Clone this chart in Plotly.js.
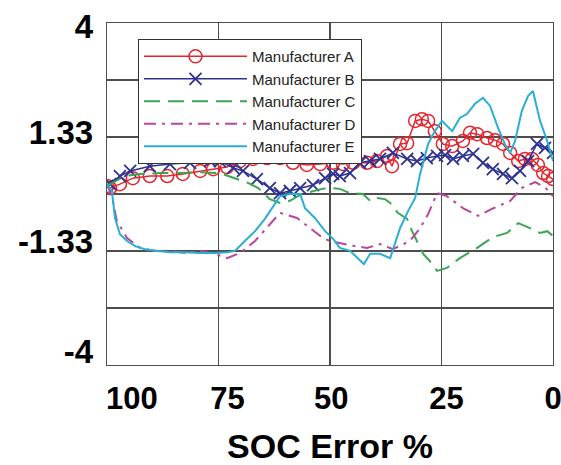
<!DOCTYPE html>
<html>
<head>
<meta charset="utf-8">
<script src="https://cdn.plot.ly/plotly-3.0.1.min.js"></script>
<style>
html,body{margin:0;padding:0;background:#fff;}
#chart{width:561px;height:465px;}
</style>
</head>
<body>
<div id="chart"></div>
<script>
// Series names
const seriesNames = ["Manufacturer A", "Manufacturer B", "Manufacturer C", "Manufacturer D", "Manufacturer E"];

// Manufacturer A (SOC %, error)
const socA = [100, 99.3, 97.1, 94.2, 90.4, 86.5, 83.0, 79.1, 76.2, 73.1, 70.2, 67.3, 64.1, 61.2, 58.3, 55.2, 52.2, 49.3, 47.1, 44.8, 41.7, 39.5, 37.2, 36.1, 34.3, 32.7, 30.9, 29.4, 28.0, 26.5, 24.7, 22.6, 20.2, 18.6, 17.0, 14.8, 13.0, 11.2, 9.6, 7.8, 6.3, 4.7, 3.4, 2.2, 1.1, 0];
const errA = [0.19, 0.14, 0.23, 0.37, 0.42, 0.42, 0.47, 0.54, 0.58, 0.63, 0.77, 0.82, 0.84, 0.84, 0.73, 0.68, 0.70, 0.73, 0.70, 0.73, 0.73, 0.77, 0.89, 0.65, 1.17, 1.19, 1.71, 1.75, 1.71, 1.47, 1.17, 1.12, 1.24, 1.43, 1.40, 1.31, 1.26, 1.17, 0.96, 0.77, 0.82, 0.82, 0.68, 0.49, 0.42, 0.35];

// Manufacturer B
const socB = [100, 99.3, 97.1, 94.8, 90.4, 85.9, 81.4, 76.9, 74.7, 71.7, 69.5, 66.4, 63.5, 61.2, 59.0, 56.7, 53.8, 51.1, 49.3, 47.8, 45.5, 43.3, 41.0, 38.8, 35.9, 32.7, 30.5, 28.3, 26.0, 24.2, 22.4, 20.2, 17.9, 15.7, 13.5, 11.2, 9.2, 7.4, 5.6, 3.6, 1.8, 0];
const errB = [0.19, 0.23, 0.42, 0.54, 0.65, 0.70, 0.73, 0.77, 0.77, 0.61, 0.54, 0.35, 0.14, 0.02, 0.07, 0.14, 0.21, 0.37, 0.47, 0.42, 0.49, 0.73, 0.77, 0.82, 0.96, 0.82, 0.77, 0.84, 0.89, 0.91, 0.82, 0.89, 0.94, 0.73, 0.58, 0.47, 0.37, 0.54, 0.77, 1.17, 1.08, 0.96];

// Manufacturer C
const socC = [100, 98.2, 96.0, 92.6, 88.1, 83.6, 79.1, 74.7, 70.6, 68.4, 66.1, 63.5, 61.2, 59.0, 56.3, 54.0, 51.8, 50.0, 47.8, 45.5, 42.6, 41.0, 39.9, 37.7, 36.5, 34.8, 32.7, 31.6, 30.5, 29.1, 27.6, 26.0, 23.8, 20.9, 17.0, 13.5, 10.3, 7.8, 5.8, 2.9, 1.3, 0];
const errC = [0.19, 0.30, 0.42, 0.47, 0.49, 0.49, 0.51, 0.49, 0.35, 0.26, 0.14, -0.12, -0.21, -0.16, 0.00, 0.07, 0.12, 0.14, 0.12, 0.02, 0.00, -0.16, -0.09, -0.12, -0.21, -0.44, -0.58, -0.87, -1.10, -1.40, -1.57, -1.80, -1.73, -1.50, -1.26, -1.01, -0.91, -0.68, -0.77, -0.91, -0.87, -0.98];

// Manufacturer D
const socD = [100, 98.9, 97.8, 95.5, 92.6, 89.2, 85.9, 82.5, 79.1, 75.8, 73.1, 70.2, 66.8, 63.9, 61.2, 57.4, 54.5, 51.6, 50.0, 47.8, 44.4, 41.7, 38.8, 35.9, 32.1, 29.8, 28.0, 26.0, 23.8, 20.2, 16.8, 13.7, 9.6, 7.0, 4.0, 1.8, 0];
const errD = [0.23, -0.05, -0.63, -1.03, -1.26, -1.33, -1.33, -1.38, -1.33, -1.40, -1.50, -1.38, -1.10, -0.75, -0.44, -0.56, -0.80, -1.03, -1.10, -1.15, -1.22, -1.26, -1.17, -1.29, -1.10, -0.80, -0.47, 0.02, -0.05, -0.33, -0.51, -0.35, -0.16, 0.14, 0.28, 0.16, -0.05];

// Manufacturer E
const socE = [100, 98.9, 98.2, 97.1, 95.5, 93.7, 91.5, 89.2, 85.9, 82.5, 79.1, 75.8, 72.9, 71.3, 69.1, 66.8, 64.6, 63.0, 61.2, 59.0, 56.7, 55.6, 53.4, 51.1, 49.3, 47.8, 45.5, 42.4, 41.0, 38.8, 36.5, 34.3, 32.5, 30.9, 29.8, 28.0, 26.5, 24.9, 24.2, 22.6, 20.9, 19.3, 17.5, 15.7, 14.1, 12.3, 10.8, 9.6, 8.5, 7.0, 5.6, 4.5, 2.9, 1.3, 0];
const errE = [0.23, 0.07, -0.56, -0.94, -1.10, -1.22, -1.29, -1.33, -1.36, -1.36, -1.38, -1.38, -1.36, -1.33, -1.10, -0.87, -0.58, -0.33, -0.05, 0.00, 0.00, -0.33, -0.56, -0.87, -1.05, -1.26, -1.33, -1.64, -1.40, -1.40, -1.50, -0.80, -0.40, -0.09, 0.47, 1.17, 1.47, 1.71, 1.64, 1.47, 1.78, 1.87, 2.11, 2.25, 2.06, 1.54, 1.17, 0.96, 1.24, 1.94, 2.29, 2.41, 1.71, 1.24, 0.77];

// Axis ticks and gridlines
const xGridVals = [75, 50, 25];
const xTickText = ["100", "75", "50", "25", "0"];
const xLabelPos = [94.4, 73.0, 49.7, 23.9, 0];
const yGridVals = [2.667, 1.333, 0, -1.333, -2.667];
const yTickText = ["4", "1.33", "-1.33", "-4"];
const yLabelPos = [3.93, 1.43, -1.12, -3.68];
const xTitle = "SOC Error %";

const gridColor = "#4d4d4d";
const boldFamily = "'Liberation Sans', Arial, sans-serif";

const traces = [
  {x: socA, y: errA, name: seriesNames[0], type: "scatter", mode: "lines+markers",
   line: {color: "#e3262e", width: 1.5},
   marker: {symbol: "circle-open", size: 13, color: "#e3262e", line: {width: 1.5, color: "#e3262e"}}},
  {x: socB, y: errB, name: seriesNames[1], type: "scatter", mode: "lines+markers",
   line: {color: "#2e3192", width: 1.5},
   marker: {symbol: "x-thin-open", size: 12, color: "#2e3192", line: {width: 1.8, color: "#2e3192"}}},
  {x: socC, y: errC, name: seriesNames[2], type: "scatter", mode: "lines",
   line: {color: "#3aa653", width: 2, dash: "16px,8px"}},
  {x: socD, y: errD, name: seriesNames[3], type: "scatter", mode: "lines",
   line: {color: "#b9459f", width: 2, dash: "12px,6px,3px,6px"}},
  {x: socE, y: errE, name: seriesNames[4], type: "scatter", mode: "lines",
   line: {color: "#2aafd4", width: 2}}
];

const layout = {
  width: 561, height: 465,
  margin: {l: 107, r: 8, t: 23, b: 100},
  paper_bgcolor: "#fff", plot_bgcolor: "#fff",
  showlegend: true,
  legend: {
    x: 0.0695, y: 0.953, xanchor: "left", yanchor: "top",
    bgcolor: "#fff", bordercolor: "#333", borderwidth: 1,
    font: {family: boldFamily, size: 15, color: "#222"},
    itemwidth: 103, tracegroupgap: 0
  },
  xaxis: {
    range: [100, 0], tickmode: "array", tickvals: xLabelPos, ticktext: xTickText,
    tickfont: {family: boldFamily, size: 31, color: "#000", weight: "bold"},
    ticks: "outside", ticklen: 5, tickcolor: "rgba(0,0,0,0)", ticklabeloverflow: "allow",
    showgrid: false,
    minor: {tickmode: "array", tickvals: xGridVals, showgrid: true, gridcolor: gridColor, gridwidth: 1.3, ticks: ""},
    showline: true, mirror: true, linecolor: gridColor, linewidth: 1.3,
    zeroline: false, fixedrange: true, automargin: false,
    title: {text: xTitle, font: {family: boldFamily, size: 34, color: "#000", weight: "bold"}, standoff: 33}
  },
  yaxis: {
    range: [-4, 4], tickmode: "array", tickvals: yLabelPos, ticktext: yTickText,
    tickfont: {family: boldFamily, size: 33, color: "#000", weight: "bold"},
    ticks: "outside", ticklen: 6, tickcolor: "rgba(0,0,0,0)", ticklabeloverflow: "allow",
    showgrid: false,
    minor: {tickmode: "array", tickvals: yGridVals, showgrid: true, gridcolor: gridColor, gridwidth: 1.3, ticks: ""},
    showline: true, mirror: true, linecolor: gridColor, linewidth: 1.3,
    zeroline: false, fixedrange: true, automargin: false
  }
};

Plotly.newPlot("chart", traces, layout, {displayModeBar: false, staticPlot: true});
</script>
</body>
</html>
